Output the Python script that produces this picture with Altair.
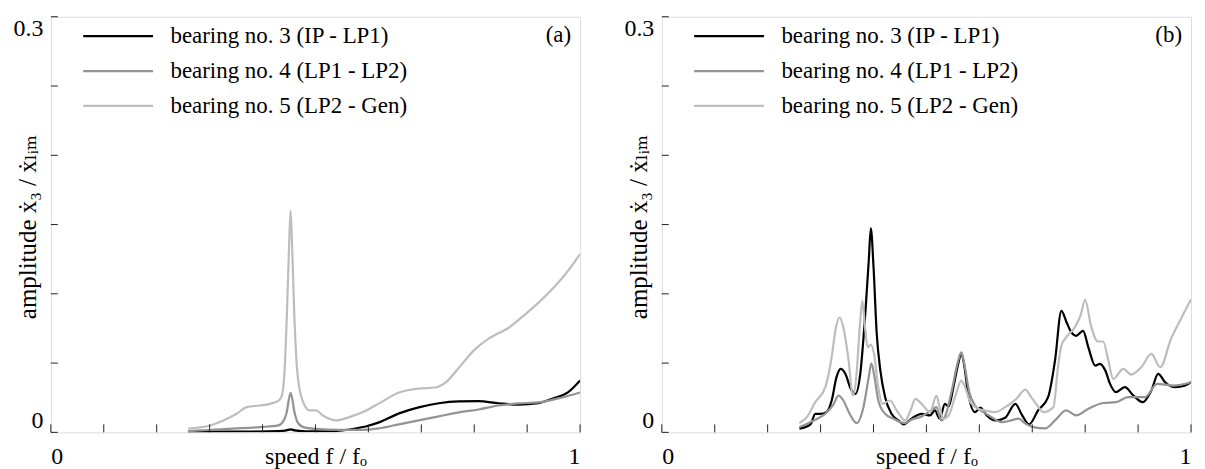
import altair as alt
import pandas as pd

NAMES = ["bearing no. 3 (IP - LP1)", "bearing no. 4 (LP1 - LP2)", "bearing no. 5 (LP2 - Gen)"]
COLORS = ["#000000", "#939393", "#bdbdbd"]

# ---- panel (a) ----
a3_x = [0.259, 0.32, 0.38, 0.43, 0.445, 0.453, 0.461, 0.48, 0.52, 0.55, 0.575, 0.60, 0.62, 0.658,
        0.695, 0.733, 0.771, 0.808, 0.846, 0.883, 0.921, 0.949, 0.977, 1.0]
a3_y = [0.0003, 0.0005, 0.0006, 0.0009, 0.0014, 0.0022, 0.0014, 0.0008, 0.0008, 0.0014, 0.0028,
        0.0048, 0.0072, 0.0137, 0.018, 0.021, 0.0223, 0.0225, 0.021, 0.020, 0.021, 0.0245, 0.0288, 0.0374]

a4_x = [0.259, 0.282, 0.344, 0.395, 0.43, 0.44, 0.445, 0.453, 0.461, 0.466, 0.477, 0.50, 0.545,
        0.583, 0.62, 0.658, 0.695, 0.733, 0.771, 0.808, 0.846, 0.883, 0.921, 0.959, 1.0]
a4_y = [0.0008, 0.0014, 0.0027, 0.0038, 0.005, 0.0086, 0.0134, 0.0285, 0.0134, 0.0074, 0.0038,
        0.0025, 0.0018, 0.0018, 0.0029, 0.0058, 0.0086, 0.0115, 0.0144, 0.0165, 0.0194, 0.0209,
        0.0216, 0.0245, 0.0288]

a5_x = [0.260, 0.301, 0.326, 0.351, 0.370, 0.395, 0.414, 0.429, 0.436, 0.442, 0.446, 0.450, 0.453,
        0.456, 0.460, 0.465, 0.473, 0.489, 0.501, 0.514, 0.539, 0.564, 0.592, 0.620, 0.658, 0.695,
        0.727, 0.746, 0.771, 0.799, 0.827, 0.865, 0.893, 0.921, 0.949, 0.977, 1.0]
a5_y = [0.0027, 0.0050, 0.0086, 0.0134, 0.0182, 0.0194, 0.0206, 0.0225, 0.026, 0.047, 0.0853,
        0.133, 0.160, 0.133, 0.0853, 0.047, 0.026, 0.0158, 0.0158, 0.0122, 0.0086, 0.0110, 0.0150,
        0.0209, 0.0288, 0.0316, 0.0324, 0.036, 0.0467, 0.059, 0.0676, 0.0755, 0.0841, 0.0935,
        0.104, 0.1165, 0.1287]

# ---- panel (b) ----
b3_x = [0.260, 0.281, 0.290, 0.300, 0.311, 0.321, 0.330, 0.338, 0.347, 0.357, 0.366, 0.375, 0.384,
        0.391, 0.395, 0.400, 0.406, 0.413, 0.422, 0.434, 0.447, 0.457, 0.472, 0.491, 0.507, 0.516,
        0.525, 0.535, 0.542, 0.551, 0.560, 0.566, 0.571, 0.579, 0.592, 0.602, 0.614, 0.630, 0.649,
        0.668, 0.681, 0.694, 0.711, 0.730, 0.743, 0.755, 0.765, 0.774, 0.783, 0.796, 0.806, 0.819,
        0.828, 0.838, 0.847, 0.858, 0.875, 0.891, 0.909, 0.925, 0.938, 0.951, 0.970, 0.989, 1.0]
b3_y = [0.0027, 0.0058, 0.0134, 0.0134, 0.0146, 0.0230, 0.0397, 0.0458, 0.0422, 0.0314, 0.0278,
        0.0422, 0.0830, 0.1237, 0.1472, 0.1199, 0.0719, 0.0446, 0.0254, 0.0134, 0.0086, 0.0058,
        0.0099, 0.0134, 0.0122, 0.0158, 0.0099, 0.0206, 0.0187, 0.0326, 0.0494, 0.0570, 0.0494,
        0.0278, 0.0146, 0.0178, 0.0122, 0.0086, 0.0106, 0.0206, 0.0122, 0.0058, 0.0158, 0.0254,
        0.0518, 0.0877, 0.0793, 0.0721, 0.0697, 0.0733, 0.0613, 0.0482, 0.0494, 0.0446, 0.0350,
        0.0290, 0.0326, 0.0266, 0.0218, 0.0302, 0.0422, 0.0362, 0.0326, 0.0338, 0.0362]

b4_x = [0.260, 0.287, 0.309, 0.325, 0.334, 0.343, 0.355, 0.368, 0.381, 0.391, 0.396, 0.402, 0.409,
        0.422, 0.438, 0.451, 0.460, 0.472, 0.491, 0.509, 0.519, 0.528, 0.536, 0.548, 0.560, 0.566,
        0.571, 0.581, 0.592, 0.608, 0.623, 0.642, 0.660, 0.674, 0.687, 0.702, 0.725, 0.743, 0.764,
        0.783, 0.806, 0.834, 0.858, 0.881, 0.913, 0.936, 0.966, 1.0]
b4_y = [0.0038, 0.0086, 0.0134, 0.0206, 0.0266, 0.0230, 0.0134, 0.0067, 0.0182, 0.0398, 0.0498,
        0.0398, 0.0230, 0.0134, 0.0098, 0.0074, 0.0067, 0.0091, 0.0115, 0.0158, 0.0182, 0.0086,
        0.0122, 0.0302, 0.0518, 0.0577, 0.0506, 0.0290, 0.0194, 0.0146, 0.0110, 0.0074, 0.0086,
        0.0099, 0.0063, 0.0038, 0.0029, 0.0086, 0.0158, 0.0122, 0.0170, 0.0212, 0.0218, 0.0254,
        0.0254, 0.0350, 0.0338, 0.0362]

b5_x = [0.260, 0.274, 0.290, 0.309, 0.321, 0.329, 0.336, 0.343, 0.353, 0.361, 0.368, 0.374, 0.379,
        0.384, 0.389, 0.395, 0.401, 0.409, 0.417, 0.431, 0.444, 0.460, 0.470, 0.479, 0.491, 0.507,
        0.519, 0.525, 0.532, 0.542, 0.554, 0.566, 0.573, 0.583, 0.598, 0.611, 0.630, 0.649, 0.670,
        0.687, 0.698, 0.711, 0.721, 0.740, 0.749, 0.755, 0.764, 0.781, 0.791, 0.800, 0.811, 0.824,
        0.834, 0.843, 0.853, 0.872, 0.887, 0.906, 0.925, 0.942, 0.962, 0.981, 1.0]
b5_y = [0.0067, 0.0110, 0.0218, 0.0326, 0.0542, 0.0758, 0.0829, 0.0758, 0.0518, 0.0266, 0.0422,
        0.0758, 0.0949, 0.0758, 0.0614, 0.0633, 0.0566, 0.0326, 0.0206, 0.0230, 0.0158, 0.0086,
        0.0158, 0.0242, 0.0206, 0.0146, 0.0266, 0.0182, 0.0099, 0.0122, 0.0254, 0.0374, 0.0326,
        0.0218, 0.0170, 0.0158, 0.0146, 0.0182, 0.0242, 0.0309, 0.0254, 0.0187, 0.0146, 0.0182,
        0.0482, 0.0626, 0.0685, 0.0762, 0.0841, 0.0956, 0.0769, 0.0656, 0.0656, 0.0532, 0.0386,
        0.0458, 0.0417, 0.0470, 0.0566, 0.0470, 0.0674, 0.0820, 0.0961]

X_TICKS = [0, 0.1, 0.2, 0.3, 0.4, 0.5, 0.6, 0.7, 0.8, 0.9, 1.0]
Y_TICKS = [0, 0.05, 0.1, 0.15, 0.2, 0.25, 0.3]
X_LABELS = [0, 1]
Y_LABELS = [0, 0.3]

FONT = "Liberation Serif, DejaVu Serif, serif"
FS = 24
LFS = 23
W = 531
H = 417


def make_df(xs_list, ys_list):
    rows = []
    for name, xs, ys in zip(NAMES, xs_list, ys_list):
        for i, (xv, yv) in enumerate(zip(xs, ys)):
            rows.append({"x": xv, "y": yv, "series": name, "i": i})
    return pd.DataFrame(rows)


def panel(df, tag):
    xscale = alt.Scale(domain=[0, 1], nice=False, zero=False)
    yscale = alt.Scale(domain=[0, 0.3], nice=False)
    lines = alt.Chart(df).mark_line(interpolate="monotone", strokeWidth=2.2, clip=True).encode(
        x=alt.X("x:Q", scale=xscale,
                axis=alt.Axis(values=X_LABELS, ticks=False, tickSize=0, domain=False, grid=False,
                              labelFlush=True, labelPadding=12, labelFont=FONT, labelFontSize=FS,
                              labelColor="black", labelExpr="datum.value == 0 ? '0' : '1'",
                              title="speed  f / fₒ", titleFont=FONT,
                              titleFontSize=FS, titleFontWeight="normal", titleColor="black",
                              titleY=31, titleBaseline="alphabetic")),
        y=alt.Y("y:Q", scale=yscale,
                axis=alt.Axis(values=Y_LABELS, ticks=False, tickSize=0, domain=False, grid=False,
                              labelFlush=True, labelPadding=8, labelFont=FONT, labelFontSize=FS,
                              labelColor="black", labelExpr="datum.value == 0 ? '0' : '0.3'",
                              title="amplitude  ẋ₃ / ẋₗᵢₘ", titleFont=FONT, titleFontSize=25,
                              titleFontWeight="normal", titleColor="black", titleAngle=270,
                              titleX=-15, titleY=H / 2 + 2, titleAlign="center",
                              titleBaseline="alphabetic")),
        color=alt.Color("series:N", scale=alt.Scale(domain=NAMES, range=COLORS),
                        legend=alt.Legend(title=None, orient="none", legendX=31, legendY=3,
                                          symbolType="stroke", symbolSize=4900,
                                          symbolStrokeWidth=2.2, clipHeight=33, rowPadding=2,
                                          labelFont=FONT, labelFontSize=LFS, labelColor="black",
                                          labelOffset=16, labelLimit=500, padding=0)),
        order="i:Q",
    )
    yt = alt.Chart(pd.DataFrame({"v": Y_TICKS})).mark_rule(color="#222", strokeWidth=1).encode(
        y=alt.Y("v:Q", scale=yscale), x=alt.value(0), x2=alt.value(7))
    xt = alt.Chart(pd.DataFrame({"v": X_TICKS})).mark_rule(color="#222", strokeWidth=1).encode(
        x=alt.X("v:Q", scale=xscale), y=alt.value(H), y2=alt.value(H - 8))
    lab = alt.Chart(pd.DataFrame({"t": [tag]})).mark_text(
        font=FONT, fontSize=LFS, align="right", baseline="middle", color="black").encode(
        text="t:N", x=alt.value(W - 9), y=alt.value(18))
    return alt.layer(lines, yt, xt, lab).properties(width=W, height=H)


pa = panel(make_df([a3_x, a4_x, a5_x], [a3_y, a4_y, a5_y]), "(a)")
pb = panel(make_df([b3_x, b4_x, b5_x], [b3_y, b4_y, b5_y]), "(b)")

chart = alt.hconcat(pa, pb, spacing=82, bounds="flush").resolve_legend(
    color="independent").resolve_scale(color="shared").properties(
    padding={"left": 4, "top": 7, "right": 5, "bottom": 5}
).configure_view(stroke="#222", strokeWidth=1).configure(background="white")

chart.save("out.html", embed_options={"renderer": "svg", "actions": False})
